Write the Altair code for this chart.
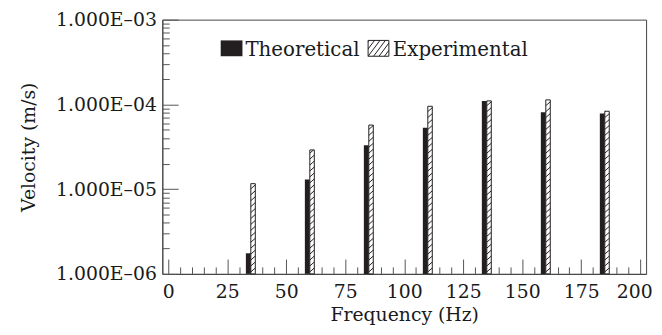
import math
import pandas as pd
import altair as alt

# ---- data ----
freqs = [35, 60, 85, 110, 135, 160, 185]
theoretical = [1.75e-6, 1.30e-5, 3.30e-5, 5.30e-5, 1.10e-4, 8.10e-5, 7.80e-5]
experimental = [1.16e-5, 2.90e-5, 5.70e-5, 9.50e-5, 1.10e-4, 1.13e-4, 8.30e-5]
x_ticks = list(range(0, 201, 25))

W, H = 489, 257
XMIN, XMAX = -2.5, 202.5
YMIN, YMAX = 1e-6, 1e-3
FONT = "DejaVu Serif"
BAR_T = 2.1   # width of theoretical bar (Hz)
BAR_E = 1.9   # width of experimental bar (Hz)

df_t = pd.DataFrame({"f": freqs, "v": theoretical})
df_t["x0"] = df_t["f"] - BAR_T
df_t["x1"] = df_t["f"]
df_e = pd.DataFrame({"f": freqs, "v": experimental})
df_e["x0"] = df_e["f"]
df_e["x1"] = df_e["f"] + BAR_E

# hatch segments derived from experimental values
dec_px = H / 3.0
spacing = 6 / dec_px
rise = 4 / dec_px
rows = []
for f, v in zip(freqs, experimental):
    top = math.log10(v)
    L = -6 - rise
    while L < top:
        t_lo = max(0.0, (-6 - L) / rise)
        t_hi = min(1.0, (top - L) / rise)
        if t_hi > t_lo:
            rows.append({
                "hx": f + t_lo * BAR_E, "hx2": f + t_hi * BAR_E,
                "hy": 10 ** (L + t_lo * rise), "hy2": 10 ** (L + t_hi * rise),
            })
        L += spacing
df_h = pd.DataFrame(rows)

xscale = alt.Scale(domain=[XMIN, XMAX], nice=False, zero=False)
yscale = alt.Scale(type="log", domain=[YMIN, YMAX], nice=False)

y_minor = [m * 10.0 ** e for e in range(-6, -3) for m in range(1, 10)] + [1e-3]
x_minor = list(range(0, 201, 5))

major_y_test = "abs(log(datum.value)/LN10 - round(log(datum.value)/LN10)) < 0.001"

axis_x_main = alt.Axis(
    values=x_ticks, title="Frequency (Hz)", ticks=False, grid=False,
    labelFont=FONT, labelFontSize=19, labelColor="#1a1a1a", labelPadding=9,
    labelOffset={"condition": {"test": "datum.value == 200", "value": -6}, "value": 0},
    titleFont=FONT, titleFontSize=19, titleFontWeight="normal", titleColor="#1a1a1a",
    titlePadding=4, domainColor="#444", labelFlush=False,
)
axis_y_main = alt.Axis(
    values=[1e-6, 1e-5, 1e-4, 1e-3], ticks=False, grid=False,
    title="Velocity (m/s)",
    labelExpr="'1.000E\u20130' + format(-log(datum.value)/LN10, '.0f')",
    labelFont=FONT, labelFontSize=19, labelColor="#1a1a1a", labelPadding=6,
    titleFont=FONT, titleFontSize=19, titleFontWeight="normal", titleColor="#1a1a1a",
    titlePadding=17, domainColor="#444", labelFlush=False,
)
axis_x_ticks = alt.Axis(
    orient="top", offset=-H, values=x_minor, labels=False, title=None,
    domain=False, grid=False, tickColor="#555",
    tickSize={"condition": {"test": "datum.value % 25 == 0", "value": 15}, "value": 7},
)
axis_y_ticks = alt.Axis(
    orient="right", offset=-W, values=y_minor, labels=False, title=None,
    domain=False, grid=False, tickColor="#555",
    tickSize={"condition": {"test": major_y_test, "value": 16}, "value": 7},
)

theo = alt.Chart(df_t).mark_rect(color="#231f20").encode(
    x=alt.X("x0:Q", scale=xscale, axis=axis_x_main),
    x2="x1:Q",
    y=alt.Y("v:Q", scale=yscale, axis=axis_y_main),
    y2=alt.datum(YMIN),
)
expb = alt.Chart(df_e).mark_rect(fill="white", stroke="#231f20", strokeWidth=1).encode(
    x=alt.X("x0:Q", scale=xscale, axis=axis_x_ticks),
    x2="x1:Q",
    y=alt.Y("v:Q", scale=yscale, axis=axis_y_ticks),
    y2=alt.datum(YMIN),
)
hatch = alt.Chart(df_h).mark_rule(color="#231f20", strokeWidth=1).encode(
    x=alt.X("hx:Q", scale=xscale, axis=None),
    x2="hx2:Q",
    y=alt.Y("hy:Q", scale=yscale, axis=None),
    y2="hy2:Q",
)

# ---- legend (drawn in pixels) ----
leg_theo_box = alt.Chart(pd.DataFrame({"a": [0]})).mark_rect(color="#231f20").encode(
    x=alt.value(59), x2=alt.value(81), y=alt.value(21), y2=alt.value(37)
)
leg_exp_box = alt.Chart(pd.DataFrame({"a": [0]})).mark_rect(
    fill="white", stroke="#231f20", strokeWidth=1
).encode(x=alt.value(208), x2=alt.value(229), y=alt.value(21), y2=alt.value(37))
leg_hatch_rows = []
for k in range(-3, 5):
    x0 = 208 + k * 5.5
    xa, ya, xb, yb = x0, 37, x0 + 12, 21
    if xa < 208:
        ya = 37 - (208 - xa) * 16 / 12
        xa = 208
    if xb > 229:
        yb = 21 + (xb - 229) * 16 / 12
        xb = 229
    if xb > xa:
        leg_hatch_rows.append({"xa": xa, "ya": ya, "xb": xb, "yb": yb})
leg_hatch = alt.Chart(pd.DataFrame(leg_hatch_rows)).mark_rule(
    color="#231f20", strokeWidth=1
).encode(
    x=alt.X("xa:Q", scale=None), x2="xb:Q",
    y=alt.Y("ya:Q", scale=None), y2="yb:Q",
)
leg_text = alt.Chart(pd.DataFrame({"label": ["Theoretical", "Experimental"], "px": [84, 233]})).mark_text(
    font=FONT, fontSize=20, align="left", baseline="alphabetic", color="#1a1a1a"
).encode(
    x=alt.X("px:Q", scale=None), y=alt.value(37), text="label:N"
)

chart = alt.layer(theo, expb, hatch, leg_theo_box, leg_exp_box, leg_hatch, leg_text).resolve_axis(
    x="independent", y="independent"
).properties(
    width=W, height=H,
    autosize=alt.AutoSizeParams(type="none"),
    padding={"left": 156, "top": 10, "right": 8, "bottom": 58},
).configure_view(stroke="#444", strokeWidth=1)

chart.save("out.html", embed_options={"renderer": "svg", "actions": False})
